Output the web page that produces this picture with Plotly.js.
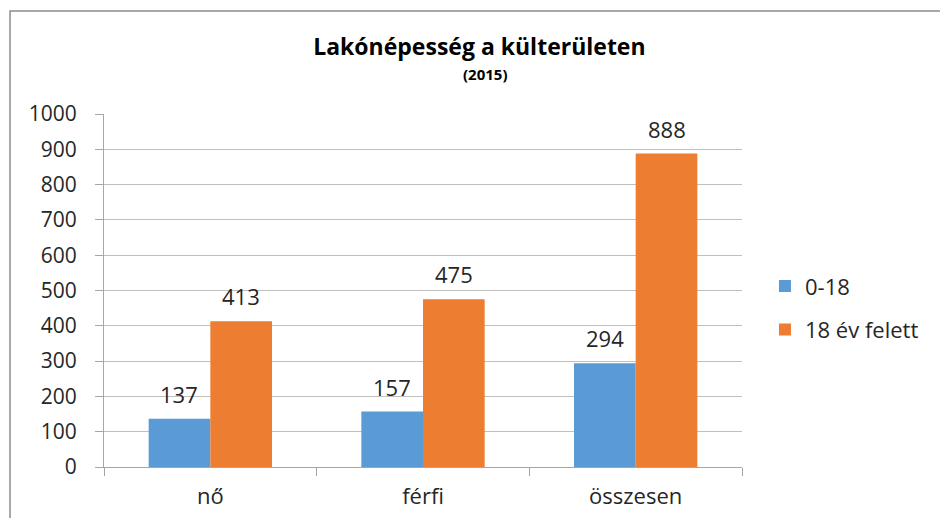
<!DOCTYPE html>
<html>
<head>
<meta charset="utf-8">
<script src="https://cdn.plot.ly/plotly-3.0.1.min.js"></script>
<style>html,body{margin:0;padding:0;background:#fff;}#chart{width:940px;height:518px;}</style>
</head>
<body>
<div id="chart"></div>
<script>
const categories = ["nő", "férfi", "összesen"];
const seriesNames = ["0-18", "18 év felett"];
const valuesYoung = [137, 157, 294];
const valuesAdult = [413, 475, 888];
const yTicks = [0, 100, 200, 300, 400, 500, 600, 700, 800, 900, 1000];
const titleText = "Lakónépesség a külterületen";
const subtitleText = "(2015)";

const FONT = "Open Sans, DejaVu Sans, sans-serif";
const colors = ["#5B9BD5", "#ED7D31"];
const seriesValues = [valuesYoung, valuesAdult];

const traces = seriesValues.map((vals, i) => ({
  type: "bar",
  name: seriesNames[i],
  x: categories,
  y: vals,
  marker: { color: colors[i] },
  legendgroup: "g" + i,
  hoverinfo: "x+y+name"
}));

const annotations = [];
seriesValues.forEach((vals, i) => {
  vals.forEach((v, j) => {
    annotations.push({
      x: categories[j], y: v, xref: "x", yref: "y",
      text: String(v), showarrow: false,
      xanchor: "center", yanchor: "bottom",
      xshift: i === 0 ? -31 : 31, yshift: 8,
      font: { family: FONT, size: 22, color: "#262626" }
    });
  });
});
annotations.push({
  text: "<b>" + subtitleText + "</b>", showarrow: false,
  xref: "paper", yref: "paper", x: 0.597, y: 1.1133,
  xanchor: "center", yanchor: "middle",
  font: { family: FONT, size: 15, color: "#000000" }
});

const layout = {
  width: 940, height: 518,
  margin: { l: 104, r: 198, t: 114, b: 51 },
  paper_bgcolor: "#ffffff", plot_bgcolor: "#ffffff",
  barmode: "group", bargap: 0.42, bargroupgap: 0,
  title: {
    text: "<b>" + titleText + "</b>",
    x: 0.51, xref: "container", xanchor: "center",
    y: 0.909, yref: "container", yanchor: "middle",
    font: { family: FONT, size: 23, color: "#000000" }
  },
  xaxis: {
    type: "category",
    showgrid: false,
    showline: true, linecolor: "#a6a6a6", linewidth: 1,
    ticks: "outside", tickson: "boundaries", ticklen: 8, tickcolor: "#a6a6a6",
    tickfont: { family: FONT, size: 22, color: "#262626" },
    ticklabelstandoff: 10
  },
  yaxis: {
    range: [0, 1000],
    tickvals: yTicks,
    ticktext: yTicks.map(String),
    showgrid: true, gridcolor: "#bfbfbf", gridwidth: 1,
    showline: true, linecolor: "#a6a6a6", linewidth: 1,
    ticks: "outside", ticklen: 8, tickcolor: "#a6a6a6",
    tickfont: { family: FONT, size: 21, color: "#262626" },
    ticklabelstandoff: 14,
    zeroline: false
  },
  legend: {
    x: 1.036, xanchor: "left", y: 0.45, yanchor: "middle",
    traceorder: "grouped", tracegroupgap: 12,
    font: { family: FONT, size: 22, color: "#262626" },
    bgcolor: "rgba(0,0,0,0)"
  },
  annotations: annotations,
  shapes: [{
    type: "path", xref: "paper", yref: "paper",
    path: "M -0.1473,-0.2 L -0.1473,1.2918 L 1.35,1.2918",
    line: { color: "#8c8c8c", width: 1.5 }
  }]
};

Plotly.newPlot("chart", traces, layout, { displayModeBar: false, staticPlot: true });
</script>
</body>
</html>
